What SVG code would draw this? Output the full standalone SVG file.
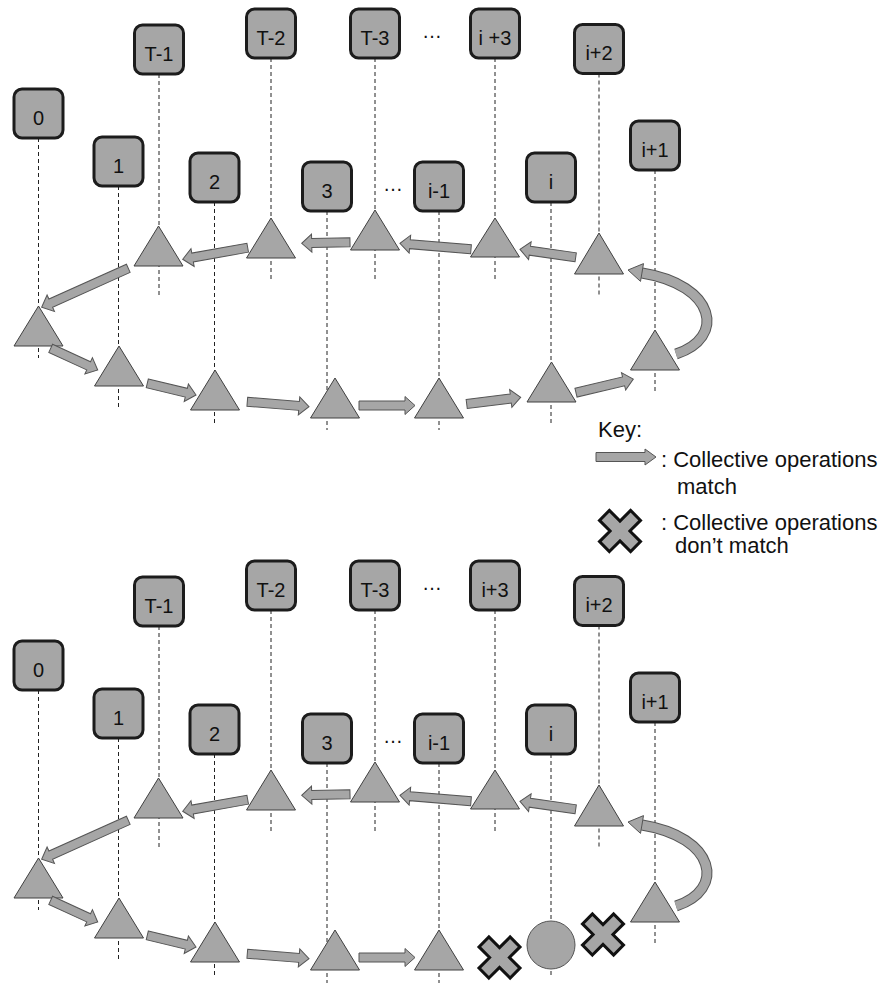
<svg xmlns="http://www.w3.org/2000/svg" xmlns:xlink="http://www.w3.org/1999/xlink" width="883" height="983" viewBox="0 0 883 983">
<style>
.box{fill:#a6a6a6;stroke:#1c1c1c;stroke-width:3}
.lbl{font-family:"Liberation Sans",Arial,sans-serif;font-size:20px;fill:#111;text-anchor:middle}
.key{font-family:"Liberation Sans",Arial,sans-serif;font-size:22px;fill:#111}
.ln{stroke:#222;stroke-width:1;stroke-dasharray:4 3;fill:none}
.tri{fill:#a6a6a6;stroke:#404040;stroke-width:1}
.arr{fill:#a6a6a6;stroke:#555;stroke-width:1;stroke-linejoin:miter}
.cross{fill:#a6a6a6;stroke:#111;stroke-width:3}
.circ{fill:#a6a6a6;stroke:#555;stroke-width:1}
</style>
<defs>
<path id="xshape" transform="rotate(45)" d="M7,22V7H22V-7H7V-22H-7V-7H-22V7H-7V22Z"/>
</defs>
<rect width="883" height="983" fill="#fff"/>

<!-- TOP DIAGRAM -->
<g id="top">
<g id="top-nodes">
<g id="t-node-0"><line class="ln" x1="38.5" y1="138" x2="38.5" y2="358"/><rect class="box" x="14" y="89" width="49" height="49" rx="8"/><text class="lbl" x="38.5" y="124.5">0</text><polygon class="tri" points="38.5,306 63,346 14,346"/></g>
<g id="t-node-1"><line class="ln" x1="118.5" y1="186" x2="118.5" y2="407"/><rect class="box" x="94" y="137" width="49" height="49" rx="8"/><text class="lbl" x="118.5" y="172.5">1</text><polygon class="tri" points="119,346 143.5,386 94.5,386"/></g>
<g id="t-node-2"><line class="ln" x1="214.5" y1="202" x2="214.5" y2="423"/><rect class="box" x="190" y="153" width="49" height="49" rx="8"/><text class="lbl" x="214.5" y="188.5">2</text><polygon class="tri" points="215,370 239.5,410 190.5,410"/></g>
<g id="t-node-3"><line class="ln" x1="327" y1="211" x2="327" y2="430"/><rect class="box" x="302.5" y="162" width="49" height="49" rx="8"/><text class="lbl" x="327" y="197.5">3</text><polygon class="tri" points="335,378 359.5,418 310.5,418"/></g>
<g id="t-node-im1"><line class="ln" x1="439" y1="211" x2="439" y2="430"/><rect class="box" x="414.5" y="162" width="49" height="49" rx="8"/><text class="lbl" x="439" y="197.5">i-1</text><polygon class="tri" points="439,378 463.5,418 414.5,418"/></g>
<g id="t-node-i"><line class="ln" x1="551" y1="202" x2="551" y2="423"/><rect class="box" x="526.5" y="153" width="49" height="49" rx="8"/><text class="lbl" x="551" y="188.5">i</text><polygon class="tri" points="551.5,362 576,402 527,402"/></g>
<g id="t-node-ip1"><line class="ln" x1="655" y1="170" x2="655" y2="392"/><rect class="box" x="630.5" y="121" width="49" height="49" rx="8"/><text class="lbl" x="655" y="156.5">i+1</text><polygon class="tri" points="655,330 679.5,370 630.5,370"/></g>
<g id="t-node-ip2"><line class="ln" x1="599" y1="73.5" x2="599" y2="295"/><rect class="box" x="574.5" y="24.5" width="49" height="49" rx="8"/><text class="lbl" x="599" y="60">i+2</text><polygon class="tri" points="599,233 623.5,274 574.5,274"/></g>
<g id="t-node-ip3"><line class="ln" x1="495" y1="58" x2="495" y2="279"/><rect class="box" x="470.5" y="9" width="49" height="49" rx="8"/><text class="lbl" x="495" y="44.5">i +3</text><polygon class="tri" points="495,218 519.5,257 470.5,257"/></g>
<g id="t-node-tm3"><line class="ln" x1="375" y1="58" x2="375" y2="279"/><rect class="box" x="350.5" y="9" width="49" height="49" rx="8"/><text class="lbl" x="375" y="44.5">T-3</text><polygon class="tri" points="375,210 399.5,250 350.5,250"/></g>
<g id="t-node-tm2"><line class="ln" x1="271" y1="58" x2="271" y2="279"/><rect class="box" x="246.5" y="9" width="49" height="49" rx="8"/><text class="lbl" x="271" y="44.5">T-2</text><polygon class="tri" points="271,218 295.5,258 246.5,258"/></g>
<g id="t-node-tm1"><line class="ln" x1="159" y1="74" x2="159" y2="295"/><rect class="box" x="134.5" y="25" width="49" height="49" rx="8"/><text class="lbl" x="159" y="60.5">T-1</text><polygon class="tri" points="158.5,226 183,266 134,266"/></g>
<text class="lbl" x="432" y="38">…</text>
<text class="lbl" x="393" y="191">…</text>
</g>
<g id="top-connectors">
<path class="arr" transform="translate(575.7,257.3) rotate(188.2)" d="M0,-4.5H46.3V-9L56.3,0L46.3,9V4.5H0Z"/>
<path class="arr" transform="translate(471,249.3) rotate(184.8)" d="M0,-4.5H61.3V-9L71.3,0L61.3,9V4.5H0Z"/>
<path class="arr" transform="translate(350,242.3) rotate(178.8)" d="M0,-4.5H38.3V-9L48.3,0L38.3,9V4.5H0Z"/>
<path class="arr" transform="translate(247.7,247.7) rotate(169.9)" d="M0,-4.5H56V-9L66,0L56,9V4.5H0Z"/>
<path class="arr" transform="translate(128.3,268.3) rotate(155.8)" d="M0,-4.5H85V-9L95,0L85,9V4.5H0Z"/>
<path class="arr" transform="translate(50.7,348.3) rotate(24.8)" d="M0,-4.5H41.8V-9L51.8,0L41.8,9V4.5H0Z"/>
<path class="arr" transform="translate(147.3,383.3) rotate(13.5)" d="M0,-4.5H40.1V-9L50.1,0L40.1,9V4.5H0Z"/>
<path class="arr" transform="translate(247.3,401.7) rotate(4.6)" d="M0,-4.5H51.9V-9L61.9,0L51.9,9V4.5H0Z"/>
<path class="arr" transform="translate(359,405.5) rotate(0)" d="M0,-4.5H46V-9L56,0L46,9V4.5H0Z"/>
<path class="arr" transform="translate(466.7,404) rotate(-7.1)" d="M0,-4.5H44.4V-9L54.4,0L44.4,9V4.5H0Z"/>
<path class="arr" transform="translate(576,392.7) rotate(-13.4)" d="M0,-4.5H48.9V-9L58.9,0L48.9,9V4.5H0Z"/>
<g id="t-curve">
<path d="M676,354 C726,338 716,285 642,273" fill="none" stroke="#555" stroke-width="11"/>
<path d="M676,354 C726,338 716,285 642,273" fill="none" stroke="#a6a6a6" stroke-width="9"/>
<polygon class="arr" points="628,270 643.5,263.6 640.5,281.4"/>
</g>
</g>
</g>

<!-- KEY -->
<g id="key">
<text class="key" x="598" y="437">Key:</text>
<path class="arr" d="M596,452.5H645V449L656,457L645,465V461.5H596Z"/>
<text class="key" x="661" y="467">: Collective operations</text>
<text class="key" x="677" y="494">match</text>
<use xlink:href="#xshape" href="#xshape" class="cross" transform="translate(620,531)"/>
<text class="key" x="661" y="530">: Collective operations</text>
<text class="key" x="675" y="553">don’t match</text>
</g>

<!-- BOTTOM DIAGRAM -->
<g id="bottom" transform="translate(0,552)">
<g id="bottom-nodes">
<g id="b-node-0"><line class="ln" x1="38.5" y1="138" x2="38.5" y2="358"/><rect class="box" x="14" y="89" width="49" height="49" rx="8"/><text class="lbl" x="38.5" y="124.5">0</text><polygon class="tri" points="38.5,306 63,346 14,346"/></g>
<g id="b-node-1"><line class="ln" x1="118.5" y1="186" x2="118.5" y2="407"/><rect class="box" x="94" y="137" width="49" height="49" rx="8"/><text class="lbl" x="118.5" y="172.5">1</text><polygon class="tri" points="119,346 143.5,386 94.5,386"/></g>
<g id="b-node-2"><line class="ln" x1="214.5" y1="202" x2="214.5" y2="423"/><rect class="box" x="190" y="153" width="49" height="49" rx="8"/><text class="lbl" x="214.5" y="188.5">2</text><polygon class="tri" points="215,370 239.5,410 190.5,410"/></g>
<g id="b-node-3"><line class="ln" x1="327" y1="211" x2="327" y2="431"/><rect class="box" x="302.5" y="162" width="49" height="49" rx="8"/><text class="lbl" x="327" y="197.5">3</text><polygon class="tri" points="335,378 359.5,418 310.5,418"/></g>
<g id="b-node-im1"><line class="ln" x1="439" y1="211" x2="439" y2="431"/><rect class="box" x="414.5" y="162" width="49" height="49" rx="8"/><text class="lbl" x="439" y="197.5">i-1</text><polygon class="tri" points="439,378 463.5,418 414.5,418"/></g>
<g id="b-node-i"><line class="ln" x1="551" y1="202" x2="551" y2="423"/><rect class="box" x="526.5" y="153" width="49" height="49" rx="8"/><text class="lbl" x="551" y="188.5">i</text><circle class="circ" cx="551" cy="393" r="24"/></g>
<g id="b-node-ip1"><line class="ln" x1="655" y1="170" x2="655" y2="392"/><rect class="box" x="630.5" y="121" width="49" height="49" rx="8"/><text class="lbl" x="655" y="156.5">i+1</text><polygon class="tri" points="655,330 679.5,370 630.5,370"/></g>
<g id="b-node-ip2"><line class="ln" x1="599" y1="73.5" x2="599" y2="295"/><rect class="box" x="574.5" y="24.5" width="49" height="49" rx="8"/><text class="lbl" x="599" y="60">i+2</text><polygon class="tri" points="599,233 623.5,274 574.5,274"/></g>
<g id="b-node-ip3"><line class="ln" x1="495" y1="58" x2="495" y2="279"/><rect class="box" x="470.5" y="9" width="49" height="49" rx="8"/><text class="lbl" x="495" y="44.5">i+3</text><polygon class="tri" points="495,218 519.5,257 470.5,257"/></g>
<g id="b-node-tm3"><line class="ln" x1="375" y1="58" x2="375" y2="279"/><rect class="box" x="350.5" y="9" width="49" height="49" rx="8"/><text class="lbl" x="375" y="44.5">T-3</text><polygon class="tri" points="375,210 399.5,250 350.5,250"/></g>
<g id="b-node-tm2"><line class="ln" x1="271" y1="58" x2="271" y2="279"/><rect class="box" x="246.5" y="9" width="49" height="49" rx="8"/><text class="lbl" x="271" y="44.5">T-2</text><polygon class="tri" points="271,218 295.5,258 246.5,258"/></g>
<g id="b-node-tm1"><line class="ln" x1="159" y1="74" x2="159" y2="295"/><rect class="box" x="134.5" y="25" width="49" height="49" rx="8"/><text class="lbl" x="159" y="60.5">T-1</text><polygon class="tri" points="158.5,226 183,266 134,266"/></g>
<text class="lbl" x="432" y="38">…</text>
<text class="lbl" x="393" y="191">…</text>
</g>
<g id="bottom-connectors">
<path class="arr" transform="translate(575.7,257.3) rotate(188.2)" d="M0,-4.5H46.3V-9L56.3,0L46.3,9V4.5H0Z"/>
<path class="arr" transform="translate(471,249.3) rotate(184.8)" d="M0,-4.5H61.3V-9L71.3,0L61.3,9V4.5H0Z"/>
<path class="arr" transform="translate(350,242.3) rotate(178.8)" d="M0,-4.5H38.3V-9L48.3,0L38.3,9V4.5H0Z"/>
<path class="arr" transform="translate(247.7,247.7) rotate(169.9)" d="M0,-4.5H56V-9L66,0L56,9V4.5H0Z"/>
<path class="arr" transform="translate(128.3,268.3) rotate(155.8)" d="M0,-4.5H85V-9L95,0L85,9V4.5H0Z"/>
<path class="arr" transform="translate(50.7,348.3) rotate(24.8)" d="M0,-4.5H41.8V-9L51.8,0L41.8,9V4.5H0Z"/>
<path class="arr" transform="translate(147.3,383.3) rotate(13.5)" d="M0,-4.5H40.1V-9L50.1,0L40.1,9V4.5H0Z"/>
<path class="arr" transform="translate(247.3,401.7) rotate(4.6)" d="M0,-4.5H51.9V-9L61.9,0L51.9,9V4.5H0Z"/>
<path class="arr" transform="translate(359,405.5) rotate(0)" d="M0,-4.5H46V-9L56,0L46,9V4.5H0Z"/>
<use xlink:href="#xshape" href="#xshape" class="cross" transform="translate(499.5,405.5)"/>
<use xlink:href="#xshape" href="#xshape" class="cross" transform="translate(603,382.5)"/>
<g id="b-curve">
<path d="M676,354 C726,338 716,285 642,273" fill="none" stroke="#555" stroke-width="11"/>
<path d="M676,354 C726,338 716,285 642,273" fill="none" stroke="#a6a6a6" stroke-width="9"/>
<polygon class="arr" points="628,270 643.5,263.6 640.5,281.4"/>
</g>
</g>
</g>
</svg>
